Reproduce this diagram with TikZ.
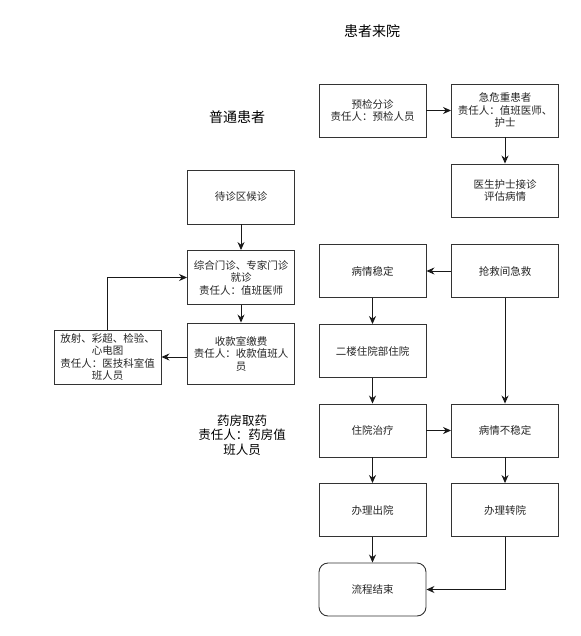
\documentclass[tikz,border=0pt]{standalone}
\usepackage{xcolor}
\usepackage{fontspec}
\setmainfont{Noto Sans CJK SC}
\usepackage{tikz}
\usetikzlibrary{positioning, shapes, arrows.meta, calc}
\tikzset{flowchart/.style={
    stepbox/.style={rectangle, draw=black!80, line width=0.9pt, minimum width=107pt, minimum height=53pt, inner sep=2pt, align=center, fill=white, text=black!85, font=\fontsize{10.5}{12.5}\selectfont},
    endbox/.style={stepbox, rounded corners=9pt},
    heading/.style={align=center, font=\fontsize{14}{16}\selectfont},
    flow/.style={line width=0.9pt, black!90, -{Stealth[length=8pt, width=7pt]}},
}}

\begin{document}
\begin{tikzpicture}[flowchart, x=1pt, y=-1pt]
    \useasboundingbox (0,0) rectangle (580,636);
    \node[heading] (arrive) at (372,31) {患者来院};
    \node[heading] (normal) at (237,117) {普通患者};
    \node[heading, font=\fontsize{12.5}{14.5}\selectfont] (pharmacy) at (242,435) {药房取药\\责任人：药房值\\班人员};

    \node[stepbox] (triage) at (372.5,110.5) {预检分诊\\责任人：预检人员};
    \node[stepbox] (critical) at (505,110.5) {急危重患者\\责任人：值班医师、\\护士};
    \node[stepbox] (assess) at (505,190.5) {医生护士接诊\\评估病情};

    \node[stepbox, minimum height=54pt] (waiting) at (241,197) {待诊区候诊};
    \node[stepbox, minimum height=54pt] (clinic) at (241,277.5) {综合门诊、专家门诊\\就诊\\责任人：值班医师};
    \node[stepbox, minimum height=61pt] (payment) at (241,353.5) {收款室缴费\\责任人：收款值班人\\员};
    \node[stepbox, minimum height=54pt] (exam) at (107.5,357) {放射、彩超、检验、\\心电图\\责任人：医技科室值\\班人员};

    \node[stepbox] (stable) at (372.5,271) {病情稳定};
    \node[stepbox] (rescue) at (505,271) {抢救间急救};
    \node[stepbox] (ward) at (372.5,351) {二楼住院部住院};
    \node[stepbox] (treat) at (372.5,430.5) {住院治疗};
    \node[stepbox] (unstable) at (505,430.5) {病情不稳定};
    \node[stepbox] (discharge) at (372.5,510) {办理出院};
    \node[stepbox] (transfer) at (505,510) {办理转院};
    \node[endbox] (finish) at (372.5,589.5) {流程结束};

    \draw[flow] (triage) -- (critical);
    \draw[flow] (critical) -- (assess);
    \draw[flow] (waiting) -- (clinic);
    \draw[flow] (clinic) -- (payment);
    \draw[flow] (payment.west |- exam.east) -- (exam.east);
    \draw[flow] (exam.north) |- (clinic.west);
    \draw[flow] (rescue) -- (stable);
    \draw[flow] (stable) -- (ward);
    \draw[flow] (ward) -- (treat);
    \draw[flow] (rescue) -- (unstable);
    \draw[flow] (treat) -- (unstable);
    \draw[flow] (treat) -- (discharge);
    \draw[flow] (unstable) -- (transfer);
    \draw[flow] (discharge) -- (finish);
    \draw[flow] (transfer.south) |- (finish.east);
\end{tikzpicture}
\end{document}
